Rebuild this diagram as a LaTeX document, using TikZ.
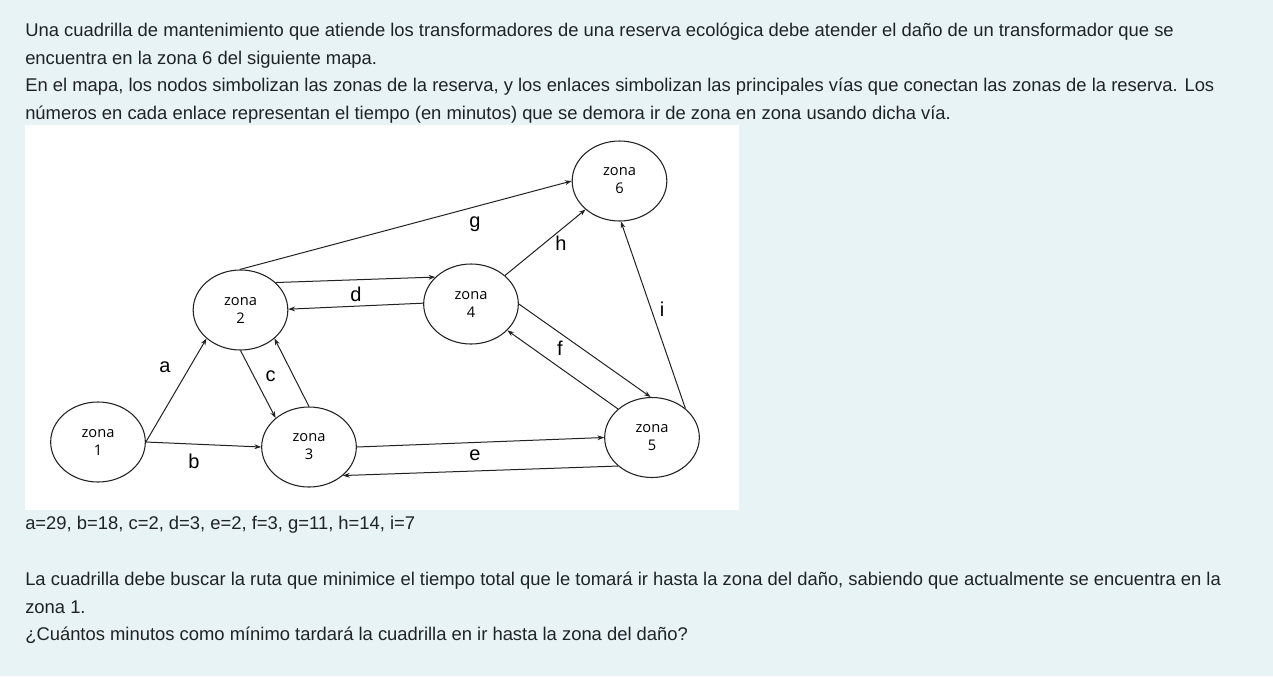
\documentclass[tikz,border=0pt]{standalone}
\usepackage{fontspec}
\setmainfont{Liberation Sans}
\newfontfamily\zonafont{Open Sans}
\usetikzlibrary{shapes.geometric,arrows.meta}
\definecolor{fondo}{HTML}{E8F3F5}
\definecolor{texto}{HTML}{1F2326}
\definecolor{trazo}{HTML}{222222}
\begin{document}
\begin{tikzpicture}[x=0.75pt,y=-0.75pt,
    zona/.style={ellipse,draw=trazo,line width=0.8pt,minimum width=71pt,minimum height=60pt,
      inner sep=0pt,align=center,font=\zonafont\fontsize{11}{13.5}\selectfont},
    via/.style={draw=trazo,line width=0.75pt,-{Stealth[length=5pt,width=3.6pt]}},
    etiq/.style={anchor=base,inner sep=0pt,font=\fontsize{15}{16}\selectfont},
    parrafo/.style={anchor=base west,inner sep=0pt,text=texto,font=\fontsize{13.8}{16}\selectfont}]
  \useasboundingbox (0,0) rectangle (1273,676);
  \fill[fondo] (0,0) rectangle (1273,676);
  \fill[white] (25,125) rectangle (739,510);

  % enunciado
  \node[parrafo] (t1) at (25,36.5) {Una cuadrilla de mantenimiento que atiende los transformadores de una reserva ecológica debe atender el daño de un transformador que se};
  \node[parrafo] (t2) at (25,64.2) {encuentra en la zona 6 del siguiente mapa.};
  \node[parrafo] (t3) at (25,91.9) {En el mapa, los nodos simbolizan las zonas de la reserva, y los enlaces simbolizan las principales vías que conectan las zonas de la reserva. Los};
  \node[parrafo] (t4) at (25,119.6) {números en cada enlace representan el tiempo (en minutos) que se demora ir de zona en zona usando dicha vía.};

  % mapa
  \node[zona] (z1) at (98,442) {zona\\1};
  \node[zona] (z2) at (240.5,310) {zona\\2};
  \node[zona] (z3) at (309,447) {zona\\3};
  \node[zona] (z4) at (471,304) {zona\\4};
  \node[zona] (z5) at (652,437.5) {zona\\5};
  \node[zona] (z6) at (619.5,181) {zona\\6};

  \draw[via] (z1.0) -- (z2.220);
  \draw[via] (z1.0) -- (z3.180);
  \draw[via] (z2.270) -- (z3.139);
  \draw[via] (z3.90) -- (z2.320);
  \draw[via] (z2.38) -- (z4.143);
  \draw[via] (z4.179) -- (z2.1);
  \draw[via] (z2.91) -- (z6.180);
  \draw[via] (z4.40) -- (z6.220);
  \draw[via] (z4.0) -- (z5.92);
  \draw[via] (z5.140) -- (z4.324);
  \draw[via] (z5.41) -- (z6.272);
  \draw[via] (z3.0) -- (z5.180);
  \draw[via] (z5.220) -- (z3.320);

  \node[etiq] (la) at (165,372) {a};
  \node[etiq] (lb) at (194,468) {b};
  \node[etiq] (lc) at (270.5,381.7) {c};
  \node[etiq] (ld) at (356,301.7) {d};
  \node[etiq] (le) at (475,460) {e};
  \node[etiq] (lf) at (560,355) {f};
  \node[etiq] (lg) at (475,227) {g};
  \node[etiq] (lh) at (561,250) {h};
  \node[etiq] (li) at (662,316.7) {i};

  % datos y pregunta
  \node[parrafo] (t5) at (25,529.5) {a=29, b=18, c=2, d=3, e=2, f=3, g=11, h=14, i=7};
  \node[parrafo] (t6) at (25,585.5) {La cuadrilla debe buscar la ruta que minimice el tiempo total que le tomará ir hasta la zona del daño, sabiendo que actualmente se encuentra en la};
  \node[parrafo] (t7) at (25,613.2) {zona 1.};
  \node[parrafo] (t8) at (25,640.9) {¿Cuántos minutos como mínimo tardará la cuadrilla en ir hasta la zona del daño?};
\end{tikzpicture}
\end{document}
